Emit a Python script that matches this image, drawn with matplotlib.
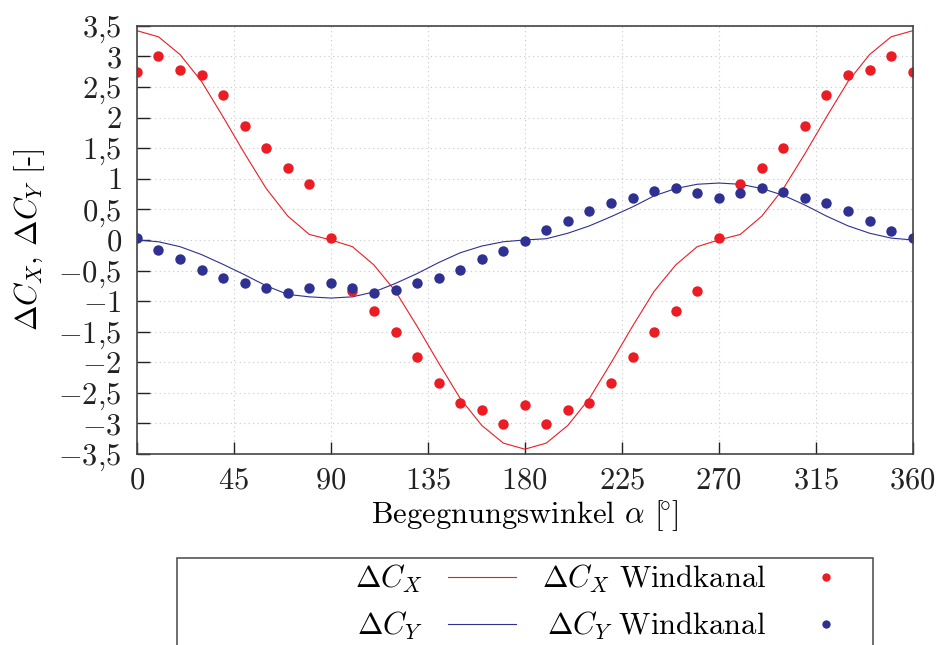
import matplotlib
matplotlib.use("Agg")
import matplotlib.pyplot as plt
from matplotlib.lines import Line2D
from matplotlib.patches import Rectangle
import numpy

plt.rcParams['font.family'] = 'serif'
plt.rcParams['font.serif'] = ['cmr10', 'DejaVu Serif']
plt.rcParams['mathtext.fontset'] = 'cm'
plt.rcParams['axes.formatter.use_mathtext'] = True

# data
angle = numpy.arange(0, 361, 10)

cx_calc = [3.42, 3.32, 3.03, 2.59, 2.01, 1.41, 0.84, 0.39, 0.09, 0.00,
           -0.11, -0.41, -0.84, -1.41, -2.01, -2.59, -3.03, -3.32, -3.42,
           -3.32, -3.03, -2.59, -2.01, -1.41, -0.84, -0.41, -0.11, 0.00,
           0.09, 0.39, 0.84, 1.41, 2.01, 2.59, 3.03, 3.32, 3.42]
cy_calc = [0.00, -0.03, -0.11, -0.24, -0.40, -0.57, -0.75, -0.89, -0.93, -0.95,
           -0.93, -0.85, -0.71, -0.55, -0.37, -0.21, -0.10, -0.03, 0.00,
           0.02, 0.11, 0.23, 0.38, 0.54, 0.72, 0.84, 0.91, 0.93,
           0.91, 0.84, 0.73, 0.57, 0.39, 0.23, 0.11, 0.03, 0.00]
cx_wind = [2.75, 3.01, 2.77, 2.70, 2.37, 1.86, 1.50, 1.18, 0.92, 0.03,
           -0.84, -1.16, -1.51, -1.92, -2.34, -2.66, -2.78, -3.01, -2.70,
           -3.01, -2.78, -2.66, -2.34, -1.92, -1.51, -1.16, -0.84, 0.03,
           0.92, 1.18, 1.50, 1.86, 2.37, 2.70, 2.77, 3.01, 2.75]
cy_wind = [0.03, -0.17, -0.31, -0.49, -0.62, -0.70, -0.79, -0.86, -0.78, -0.71,
           -0.78, -0.87, -0.82, -0.71, -0.62, -0.49, -0.31, -0.18, -0.01,
           0.17, 0.31, 0.48, 0.61, 0.69, 0.80, 0.85, 0.76, 0.69,
           0.77, 0.85, 0.78, 0.68, 0.61, 0.48, 0.31, 0.14, 0.03]

xticks = numpy.arange(0, 361, 45)
yticks = numpy.arange(-3.5, 3.51, 0.5)

red = '#ec1c24'
blue = '#2e3192'
fs = 22

fig = plt.figure(figsize=(9.38, 6.45), dpi=100)
ax = fig.add_axes([0.146, 0.296, 0.827, 0.664])

ax.plot(angle, cx_calc, color=red, lw=0.8)
ax.plot(angle, cy_calc, color=blue, lw=0.8)
ax.plot(angle, cx_wind, 'o', color=red, ms=7.5, mec='none')
ax.plot(angle, cy_wind, 'o', color=blue, ms=7.5, mec='none')

ax.set_xlim(0, 360)
ax.set_ylim(-3.5, 3.5)
ax.set_xticks(xticks)
ax.set_xticklabels(['$%d$' % t for t in xticks])
ax.set_yticks(yticks)
ylabels = []
for t in yticks:
    s = ('%g' % t).replace('.', '{,}')
    ylabels.append('$%s$' % s)
ax.set_yticklabels(ylabels)
ax.tick_params(direction='in', length=9, width=1, labelsize=fs, colors='#222222')
ax.tick_params(axis='y', pad=11)
ax.tick_params(axis='x', pad=9)
ax.grid(True, linestyle=(0, (1, 3)), color='#c8c8c8', lw=0.8)
for sp in ax.spines.values():
    sp.set_color('#444444')
    sp.set_linewidth(1.2)

ax.set_xlabel(r'Begegnungswinkel $\alpha$ [$\!^{\circ}$]', fontsize=fs, labelpad=3)
ax.set_ylabel(r'$\Delta C_X$, $\Delta C_Y$ [-]', fontsize=fs, labelpad=8)

# legend frame, cut off by the bottom edge as in the original
fig.patches.append(Rectangle((0.1887, -0.1), 0.742, 0.2353, transform=fig.transFigure,
                             fill=False, ec='#555555', lw=1.2, figure=fig))

handles = [Line2D([], [], color=red, lw=0.8),
           Line2D([], [], color=blue, lw=0.8),
           Line2D([], [], ls='none', marker='o', color=red, ms=6, mec='none'),
           Line2D([], [], ls='none', marker='o', color=blue, ms=6, mec='none')]
labels = [r'$\Delta C_X$', r'$\Delta C_Y$',
          r'$\Delta C_X$ Windkanal', r'$\Delta C_Y$ Windkanal']
fig.legend(handles, labels, ncol=2, markerfirst=False, frameon=False,
           fontsize=fs, loc='upper right', bbox_to_anchor=(0.916, 0.128),
           handlelength=2.2, handletextpad=0.85, columnspacing=0.85,
           labelspacing=0.5, borderpad=0, borderaxespad=0)

plt.savefig('out.png', dpi=100)
